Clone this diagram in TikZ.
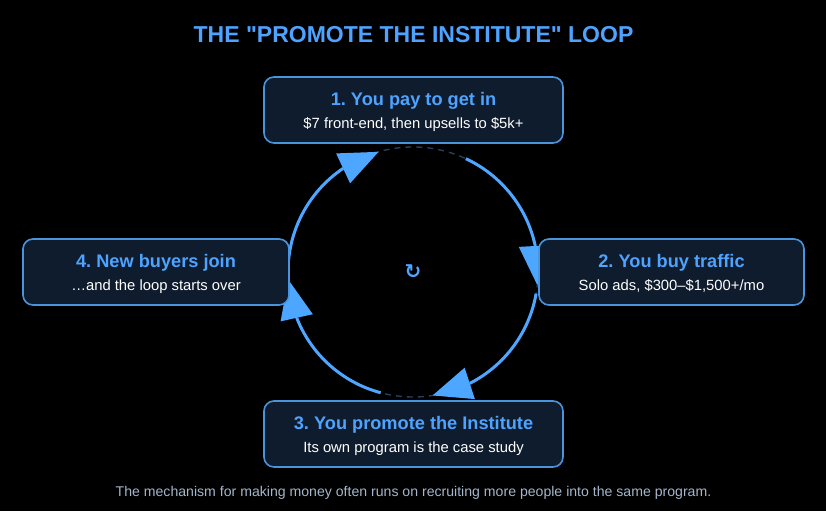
\documentclass[tikz,border=0pt]{standalone}
\usepackage{fontspec}
\setmainfont{Liberation Sans}[Ligatures=TeXOff]
\newfontfamily\symfont{DejaVu Sans}
\usetikzlibrary{calc}
\frenchspacing
\definecolor{bgc}{HTML}{000000}
\definecolor{titlec}{HTML}{4DA3FF}
\definecolor{boxfill}{HTML}{0F1C2D}
\definecolor{boxline}{HTML}{4A94DC}
\definecolor{arcc}{HTML}{4DA6FF}
\definecolor{dashc}{HTML}{24405E}
\definecolor{footc}{HTML}{A3B6CB}
\tikzset{
  stepbox/.style={draw=boxline, line width=1.6pt, fill=boxfill, rounded corners=10pt, minimum height=66pt, inner sep=0pt},
  boxtitle/.style={anchor=base, text=titlec, font=\fontsize{18.2}{21}\selectfont\bfseries, inner sep=0pt},
  boxsub/.style={anchor=base, text=white, font=\fontsize{14.8}{17}\selectfont, inner sep=0pt},
  arcline/.style={draw=arcc, line width=3pt},
  arrowfill/.style={fill=arcc},
  dashcirc/.style={draw=dashc, line width=1.4pt, dash pattern=on 6pt off 5pt}
}
\begin{document}
\begin{tikzpicture}[x=1pt,y=1pt]
\fill[bgc] (0,0) rectangle (826,511);
\useasboundingbox (0,0) rectangle (826,511);
\coordinate (C) at (413,239);
\def\R{125}
% dashed circle
\draw[dashcirc] (C) circle (\R);
% arcs
\draw[arcline] ($(C)+(65:\R)$) arc[start angle=65, end angle=12, radius=\R];
\draw[arcline] ($(C)+(-10:\R)$) arc[start angle=-10, end angle=-63, radius=\R];
\draw[arcline] ($(C)+(255:\R)$) arc[start angle=255, end angle=201.5, radius=\R];
\draw[arcline] ($(C)+(178:\R)$) arc[start angle=178, end angle=124, radius=\R];
% arrowheads
\coordinate (tA) at ($(C)+(-6:\R)$); \coordinate (mA) at ($(C)+(12:\R)$);
\coordinate (tB) at ($(C)+(-81:\R)$); \coordinate (mB) at ($(C)+(-63:\R)$);
\coordinate (tC) at ($(C)+(183.5:\R)$); \coordinate (mC) at ($(C)+(201.5:\R)$);
\coordinate (tD) at ($(C)+(106:\R)$); \coordinate (mD) at ($(C)+(124:\R)$);
\foreach \t/\m in {tA/mA,tB/mB,tC/mC,tD/mD}{
  \fill[arrowfill] (\t) -- ($(\m)!16.5pt!90:(\t)$) -- ($(\m)!16.5pt!-90:(\t)$) -- cycle;
}
% boxes
\node[stepbox, minimum width=299pt] (b1) at (413.5,401) {};
\node[stepbox, minimum width=265pt] (b2) at (671.5,239) {};
\node[stepbox, minimum width=299pt] (b3) at (413.5,77) {};
\node[stepbox, minimum width=266pt] (b4) at (156,239) {};
\node[boxtitle] (b1t) at ($(b1.center)+(0,4.3)$) {1. You pay to get in};
\node[boxsub] (b1s) at ($(b1.center)+(0,-18.3)$) {\$7 front-end, then upsells to \$5k+};
\node[boxtitle] (b2t) at ($(b2.center)+(0,4.3)$) {2. You buy traffic};
\node[boxsub] (b2s) at ($(b2.center)+(0,-18.3)$) {Solo ads, \$300–\$1,500+/mo};
\node[boxtitle] (b3t) at ($(b3.center)+(0,4.3)$) {3. You promote the Institute};
\node[boxsub] (b3s) at ($(b3.center)+(0,-18.3)$) {Its own program is the case study};
\node[boxtitle] (b4t) at ($(b4.center)+(0,4.3)$) {4. New buyers join};
\node[boxsub] (b4s) at ($(b4.center)+(0,-18.3)$) {…and the loop starts over};
% center symbol
\node[text=arcc, font=\symfont\bfseries\fontsize{20}{22}\selectfont, inner sep=0pt] (sym) at (C) {↻};
% title and footer
\node[anchor=base, text=titlec, font=\fontsize{23}{27}\selectfont\bfseries, inner sep=0pt] (title) at (413.5,468.7) {THE "PROMOTE THE INSTITUTE" LOOP};
\node[anchor=base, text=footc, font=\fontsize{14.1}{16}\selectfont, inner sep=0pt] (foot) at (413.5,14.5) {The mechanism for making money often runs on recruiting more people into the same program.};
\end{tikzpicture}
\end{document}
